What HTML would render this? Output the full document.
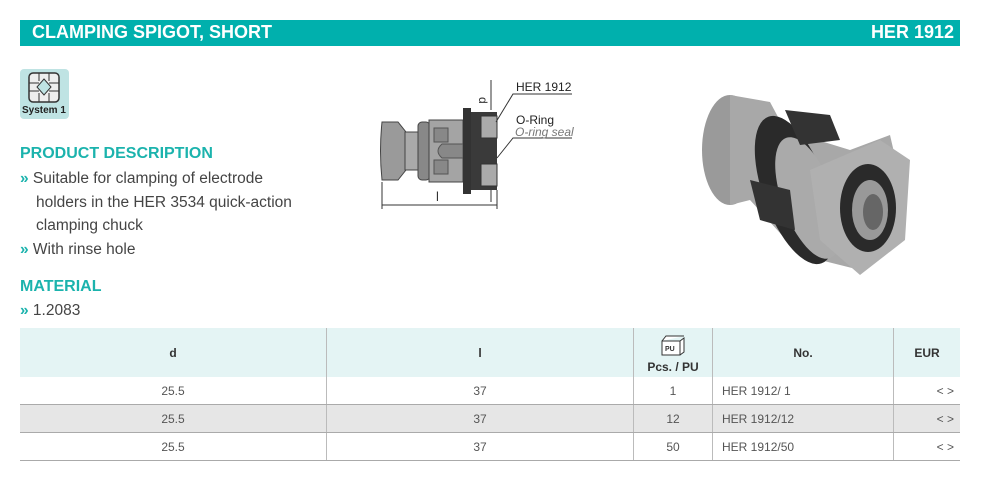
<!DOCTYPE html>
<html><head><meta charset="utf-8"><style>
body{margin:0;width:1000px;height:504px;background:#fff;position:relative;font-family:"Liberation Sans",sans-serif;overflow:hidden}
.a{position:absolute}
.bar{left:20px;top:20px;width:940px;height:26px;background:#00b0ad;color:#fff;font-weight:bold;font-size:18px}
.h{color:#1bb3ad;font-weight:bold;font-size:16px}
.t{font-size:15.5px;color:#444;line-height:23.5px}
.g{color:#1bb3ad;font-weight:bold}
table{border-collapse:collapse;font-size:12px;color:#555}
td{border-left:1px solid #bbb;padding:0}
td:first-child{border-left:none}
tr.r td{border-bottom:1px solid #aaa;height:27px}
</style></head><body>
<div class="a bar"><span class="a" style="left:12px;top:2px">CLAMPING SPIGOT, SHORT</span><span class="a" style="right:6px;top:2px">HER 1912</span></div>
<div class="a" style="left:20px;top:69px;width:49px;height:50px;background:#bfe3e3;border-radius:4px">
<svg width="49" height="40" style="position:absolute;left:0;top:0"><rect x="9" y="4" width="30" height="29" rx="4" fill="#eee" stroke="#333" stroke-width="1.5"/><path d="M24 10 L31 18 L24 26 L17 18Z" fill="#bfe3e3" stroke="#333"/><path d="M9 14H19M29 14H39M9 22H19M29 22H39M19 4V12M29 4V12M19 24V33M29 24V33" stroke="#333"/></svg>
<span class="a" style="left:2px;top:36px;font-size:10px;font-weight:bold;color:#222">System 1</span></div>
<div class="a h" style="left:20px;top:145px">PRODUCT DESCRIPTION</div>
<div class="a t" style="left:20px;top:167px;width:310px"><span class="g">»</span> Suitable for clamping of electrode<br><span style="padding-left:16px">holders in the HER 3534 quick-action</span><br><span style="padding-left:16px">clamping chuck</span><br><span class="g">»</span> With rinse hole</div>
<div class="a h" style="left:20px;top:278px">MATERIAL</div>
<div class="a t" style="left:20px;top:299px"><span class="g">»</span> 1.2083</div>
<svg class="a" style="left:370px;top:70px" width="230" height="150">
<path d="M12 52 L28 52 L36 62 L36 100 L28 110 L12 110 Q9 81 12 52Z" fill="#9a9a9a" stroke="#444"/>
<rect x="35" y="62" width="14" height="38" fill="#aaa" stroke="#444"/>
<rect x="48" y="52" width="12" height="58" rx="4" fill="#888" stroke="#444"/>
<rect x="59" y="50" width="34" height="62" fill="#a4a4a4" stroke="#444"/>
<rect x="64" y="58" width="14" height="14" fill="#888" stroke="#555"/>
<rect x="64" y="90" width="14" height="14" fill="#888" stroke="#555"/>
<path d="M72 74 H93 V88 H72 Q64 81 72 74Z" fill="#888" stroke="#555"/>
<rect x="93" y="38" width="8" height="86" fill="#333"/>
<rect x="101" y="42" width="26" height="78" fill="#3a3a3a"/>
<rect x="111" y="46" width="16" height="22" fill="#aaa" stroke="#333"/>
<rect x="111" y="94" width="16" height="22" fill="#aaa" stroke="#333"/>
<line x1="12" y1="135" x2="127" y2="135" stroke="#333"/>
<line x1="12" y1="112" x2="12" y2="139" stroke="#333"/><line x1="127" y1="120" x2="127" y2="139" stroke="#333"/>
<text x="66" y="131" font-size="13" fill="#333">l</text>
<line x1="121" y1="10" x2="121" y2="40" stroke="#333"/><line x1="121" y1="120" x2="121" y2="132" stroke="#333"/>
<text x="110" y="34" font-size="12" fill="#333" transform="rotate(90 113 30)">d</text>
<polyline points="126,52 143,24 202,24" fill="none" stroke="#333"/>
<polyline points="127,88 143,68 202,68" fill="none" stroke="#333"/>
<text x="146" y="21" font-size="12" fill="#222">HER 1912</text>
<text x="146" y="54" font-size="12" fill="#222">O-Ring</text>
<text x="145" y="66" font-size="12" font-style="italic" fill="#777">O-ring seal</text>
</svg>
<svg class="a" style="left:690px;top:80px" width="230" height="200">
<ellipse cx="40" cy="70" rx="28" ry="55" fill="#9a9a9a"/>
<path d="M40 15 L80 22 L95 50 L160 70 L200 55 L215 120 L170 190 L110 175 L60 120 L40 125Z" fill="#a8a8a8"/>
<ellipse cx="105" cy="110" rx="32" ry="78" transform="rotate(-20 105 110)" fill="#2a2a2a"/>
<ellipse cx="118" cy="118" rx="26" ry="64" transform="rotate(-20 118 118)" fill="#aaa"/>
<path d="M95 30 L140 35 L150 60 L110 65Z" fill="#333"/>
<path d="M60 100 L100 110 L105 150 L70 140Z" fill="#333"/>
<path d="M120 90 L190 60 L220 80 L215 160 L170 195 L130 160Z" fill="#b0b0b0"/>
<ellipse cx="178" cy="128" rx="28" ry="44" fill="#2a2a2a"/>
<ellipse cx="180" cy="130" rx="18" ry="30" fill="#999"/>
<ellipse cx="183" cy="132" rx="10" ry="18" fill="#666"/>
</svg>
<table class="a" style="left:20px;top:328px;width:940px">
<tr style="background:#e4f4f4;height:49px;font-weight:bold;color:#333"><td style="width:306px;text-align:center">d</td><td style="width:306px;text-align:center">l</td><td style="width:78px;text-align:center;vertical-align:bottom;padding-bottom:3px"><svg width="26" height="22"><path d="M2 6H20V20H2Z M20 6L24 3V17L20 20 M2 6L6 1H24" fill="#fff" stroke="#333"/><text x="5" y="16" font-size="7" fill="#333">PU</text></svg><br>Pcs. / PU</td><td style="width:180px;text-align:center">No.</td><td style="text-align:center">EUR</td></tr>
<tr class="r"><td style="text-align:center">25.5</td><td style="text-align:center">37</td><td style="text-align:center">1</td><td style="padding-left:9px">HER 1912/ 1</td><td style="text-align:right;padding-right:6px">&lt; &gt;</td></tr>
<tr class="r" style="background:#e6e6e6"><td style="text-align:center">25.5</td><td style="text-align:center">37</td><td style="text-align:center">12</td><td style="padding-left:9px">HER 1912/12</td><td style="text-align:right;padding-right:6px">&lt; &gt;</td></tr>
<tr class="r"><td style="text-align:center">25.5</td><td style="text-align:center">37</td><td style="text-align:center">50</td><td style="padding-left:9px">HER 1912/50</td><td style="text-align:right;padding-right:6px">&lt; &gt;</td></tr>
</table>
</body></html>
